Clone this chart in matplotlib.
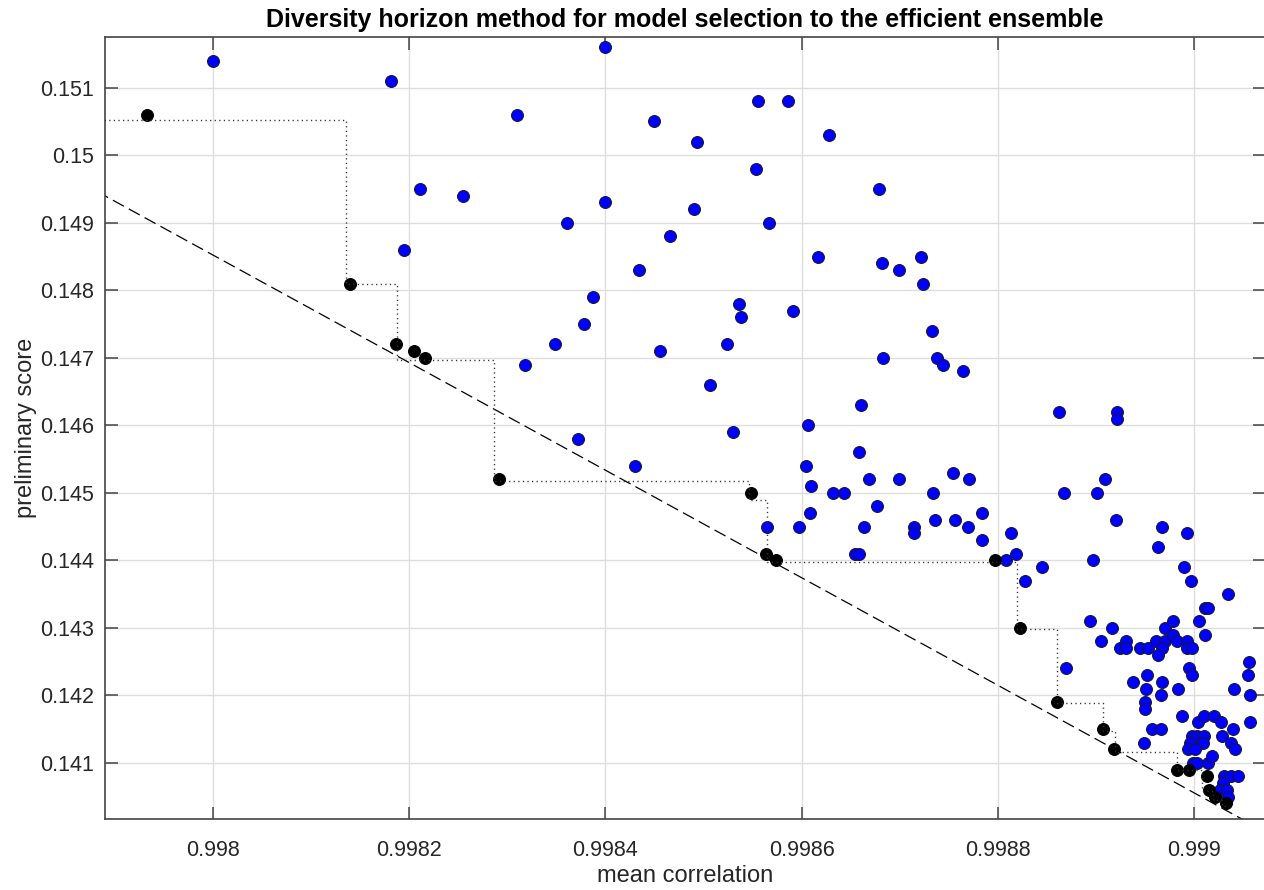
import matplotlib
matplotlib.use('Agg')
import matplotlib.pyplot as plt

plt.rcParams['font.family'] = ['Liberation Sans', 'DejaVu Sans']
plt.rcParams['lines.scale_dashes'] = False

# candidate models (blue)
blue_x = [0.998000, 0.998182, 0.998211, 0.998255, 0.998195, 0.998400, 0.998310, 0.998556,
          0.998586, 0.998450, 0.998493, 0.998628, 0.998554, 0.998679, 0.998400, 0.998490,
          0.998361, 0.998567, 0.998466, 0.998617, 0.998682, 0.998434, 0.998387, 0.998536,
          0.998538, 0.998591, 0.998378, 0.998349, 0.998524, 0.998456, 0.998683, 0.998318,
          0.998507, 0.998660, 0.998607, 0.998530, 0.998699, 0.998722, 0.998724, 0.998733,
          0.998738, 0.998744, 0.998764, 0.998862, 0.998921, 0.998921, 0.998372, 0.998430,
          0.998658, 0.998604, 0.998669, 0.998610, 0.998632, 0.998643, 0.998677, 0.998609,
          0.998565, 0.998597, 0.998664, 0.998654, 0.998658, 0.998699, 0.998754, 0.998771,
          0.998734, 0.998715, 0.998715, 0.998736, 0.998756, 0.998784, 0.998770, 0.998784,
          0.998813, 0.998808, 0.998818, 0.998828, 0.998845, 0.998867, 0.998901, 0.998909,
          0.998920, 0.998897, 0.998967, 0.998963, 0.998993, 0.998990, 0.998997, 0.999034,
          0.999011, 0.999014, 0.999005, 0.999011, 0.998894, 0.998916, 0.998905, 0.998924,
          0.998930, 0.998930, 0.998945, 0.998953, 0.998961, 0.998970, 0.998967, 0.998963,
          0.998970, 0.998978, 0.998978, 0.998982, 0.998993, 0.998993, 0.998998, 0.998995,
          0.998998, 0.999056, 0.999055, 0.999057, 0.999041, 0.999057, 0.998938, 0.998952,
          0.998951, 0.998967, 0.998966, 0.998983, 0.998950, 0.998950, 0.998957, 0.998966,
          0.998949, 0.998988, 0.999004, 0.999010, 0.999020, 0.999027, 0.999039, 0.999028,
          0.999037, 0.999042, 0.998998, 0.999003, 0.999010, 0.998996, 0.999009, 0.998994,
          0.999001, 0.998999, 0.999003, 0.999014, 0.999018, 0.999030, 0.999037, 0.999045,
          0.999029, 0.999026, 0.999033, 0.999034, 0.998869]
blue_y = [0.1514, 0.1511, 0.1495, 0.1494, 0.1486, 0.1516, 0.1506, 0.1508,
          0.1508, 0.1505, 0.1502, 0.1503, 0.1498, 0.1495, 0.1493, 0.1492,
          0.1490, 0.1490, 0.1488, 0.1485, 0.1484, 0.1483, 0.1479, 0.1478,
          0.1476, 0.1477, 0.1475, 0.1472, 0.1472, 0.1471, 0.1470, 0.1469,
          0.1466, 0.1463, 0.1460, 0.1459, 0.1483, 0.1485, 0.1481, 0.1474,
          0.1470, 0.1469, 0.1468, 0.1462, 0.1462, 0.1461, 0.1458, 0.1454,
          0.1456, 0.1454, 0.1452, 0.1451, 0.1450, 0.1450, 0.1448, 0.1447,
          0.1445, 0.1445, 0.1445, 0.1441, 0.1441, 0.1452, 0.1453, 0.1452,
          0.1450, 0.1445, 0.1444, 0.1446, 0.1446, 0.1447, 0.1445, 0.1443,
          0.1444, 0.1440, 0.1441, 0.1437, 0.1439, 0.1450, 0.1450, 0.1452,
          0.1446, 0.1440, 0.1445, 0.1442, 0.1444, 0.1439, 0.1437, 0.1435,
          0.1433, 0.1433, 0.1431, 0.1429, 0.1431, 0.1430, 0.1428, 0.1427,
          0.1428, 0.1427, 0.1427, 0.1427, 0.1428, 0.1428, 0.1427, 0.1426,
          0.1430, 0.1431, 0.1429, 0.1428, 0.1428, 0.1427, 0.1427, 0.1424,
          0.1423, 0.1425, 0.1423, 0.1420, 0.1421, 0.1416, 0.1422, 0.1423,
          0.1421, 0.1422, 0.1420, 0.1421, 0.1419, 0.1418, 0.1415, 0.1415,
          0.1413, 0.1417, 0.1416, 0.1417, 0.1417, 0.1416, 0.1415, 0.1414,
          0.1413, 0.1412, 0.1414, 0.1414, 0.1414, 0.1413, 0.1413, 0.1412,
          0.1412, 0.1410, 0.1410, 0.1410, 0.1411, 0.1408, 0.1408, 0.1408,
          0.1407, 0.1406, 0.1406, 0.1405, 0.1424]

# selected models (black)
sel_x = [0.997933, 0.998140, 0.998187, 0.998205, 0.998216, 0.998292, 0.998548, 0.998564,
         0.998574, 0.998797, 0.998822, 0.998860, 0.998907, 0.998918, 0.998982, 0.998995,
         0.999013, 0.999015, 0.999021, 0.999032]
sel_y = [0.1506, 0.1481, 0.1472, 0.1471, 0.1470, 0.1452, 0.1450, 0.1441,
         0.1440, 0.1440, 0.1430, 0.1419, 0.1415, 0.1412, 0.1409, 0.1409,
         0.1408, 0.1406, 0.1405, 0.1404]

# horizon staircase (level changes at each x)
stair_x = [0.99788, 0.998136, 0.998188, 0.998287, 0.998546, 0.998565, 0.998819, 0.998860,
           0.998907, 0.998919, 0.998982, 0.999008, 0.999019, 0.999028, 0.999032]
stair_y = [0.15052, 0.14809, 0.14697, 0.14517, 0.14490, 0.14398, 0.14299, 0.14189,
           0.14147, 0.14117, 0.14090, 0.14058, 0.14045, 0.14036, 0.14036]

# dashed diversity line end points
line_x = [0.99785, 0.99910]
line_y = [0.149719, 0.139760]

x_ticks = [0.998, 0.9982, 0.9984, 0.9986, 0.9988, 0.999]
x_labels = ['0.998', '0.9982', '0.9984', '0.9986', '0.9988', '0.999']
y_ticks = [0.141, 0.142, 0.143, 0.144, 0.145, 0.146, 0.147, 0.148, 0.149, 0.150, 0.151]
y_labels = ['0.141', '0.142', '0.143', '0.144', '0.145', '0.146', '0.147', '0.148',
            '0.149', '0.15', '0.151']

W, H = 1264, 890
fig = plt.figure(figsize=(W / 100, H / 100), dpi=100)
ax = fig.add_axes([105 / W, (H - 819.3) / H, (1265 - 105) / W, (819.3 - 36.7) / H])

ax.plot(line_x, line_y, color='black', lw=0.9, dashes=(9, 4), zorder=2)
ax.plot(stair_x, stair_y, color='#333333', lw=1.0, dashes=(0.9, 2.4),
        drawstyle='steps-post', zorder=4)
ax.scatter(blue_x, blue_y, s=74, c='#0000ff', edgecolors='#1a1a1a', linewidths=0.7, zorder=3)
ax.scatter(sel_x, sel_y, s=74, c='black', edgecolors='black', linewidths=0.7, zorder=3)

ax.set_xlim(0.9978903, 0.9990721)
ax.set_ylim(0.140166, 0.151755)
ax.set_xticks(x_ticks)
ax.set_xticklabels(x_labels)
ax.set_yticks(y_ticks)
ax.set_yticklabels(y_labels)

ax.grid(True, color='#dedede', lw=1.0)
ax.set_axisbelow(True)
for sp in ax.spines.values():
    sp.set_color('#444444')
    sp.set_linewidth(1.2)
ax.tick_params(direction='in', length=9, width=1.1, color='#444444',
               labelsize=15.5, labelcolor='#262626', top=True, right=True)
ax.tick_params(axis='x', pad=15)
ax.tick_params(axis='y', pad=8)

ax.set_xlabel('mean correlation', fontsize=17, color='#262626', labelpad=3)
ax.set_ylabel('preliminary score', fontsize=17, color='#262626', labelpad=2)
ax.set_title('Diversity horizon method for model selection to the efficient ensemble',
             fontsize=18, fontweight='bold', color='black', pad=7)

fig.savefig('out.png', dpi=100)
